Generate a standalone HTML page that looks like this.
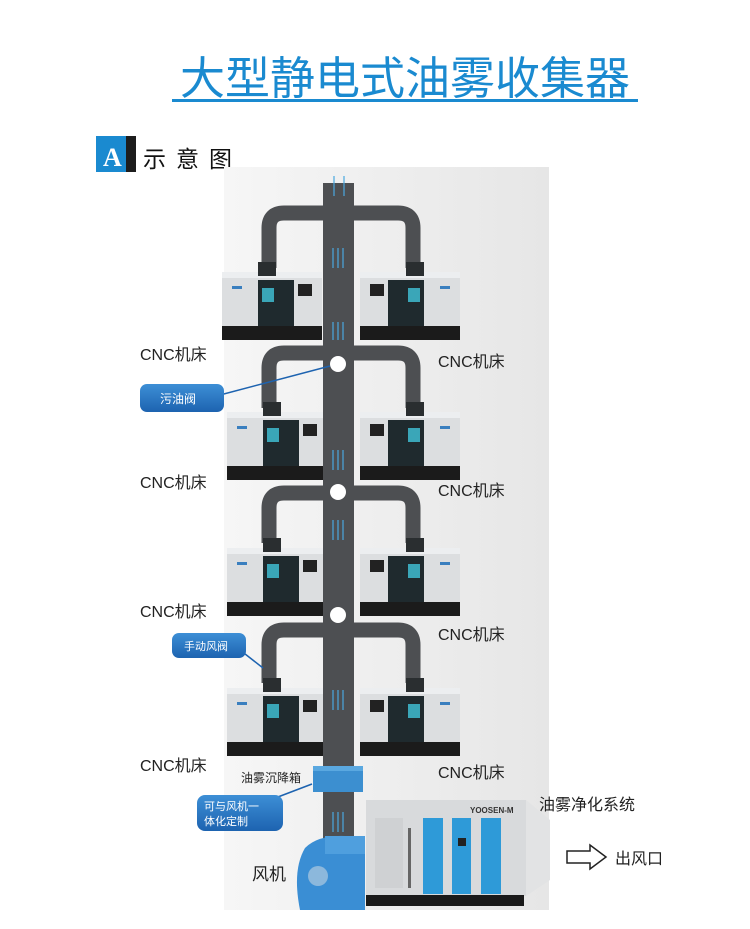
<!DOCTYPE html>
<html><head><meta charset="utf-8"><style>
body{margin:0;background:#fff;}
svg{display:block;font-family:"Liberation Sans","Noto Sans CJK SC",sans-serif;}
</style></head><body>
<svg width="750" height="929" viewBox="0 0 750 929" xmlns="http://www.w3.org/2000/svg">
<defs>
<linearGradient id="bg" x1="0" y1="0" x2="1" y2="0">
<stop offset="0" stop-color="#f6f6f6"/><stop offset="0.5" stop-color="#eeeeee"/><stop offset="1" stop-color="#e6e6e6"/></linearGradient>
<linearGradient id="bl" x1="0" y1="0" x2="0" y2="1">
<stop offset="0" stop-color="#3d8fd6"/><stop offset="1" stop-color="#1d63b0"/></linearGradient>
<g id="mL">
<rect x="0" y="10" width="100" height="58" fill="#dcdee0"/>
<rect x="0" y="10" width="100" height="6" fill="#eceef0"/>
<rect x="36" y="0" width="18" height="14" fill="#2a2e30"/>
<rect x="36" y="18" width="36" height="46" fill="#1f2a2e"/>
<rect x="40" y="26" width="12" height="14" fill="#3aa6b8"/>
<rect x="76" y="22" width="14" height="12" fill="#222"/>
<rect x="0" y="64" width="100" height="14" fill="#1b1b1b"/>
<rect x="10" y="24" width="10" height="3" fill="#3a7fbf"/>
</g>
</defs>
<!-- title -->
<text x="405" y="94" text-anchor="middle" font-size="45" fill="#1a8ad0">大型静电式油雾收集器</text>
<rect x="172" y="99" width="466" height="3" fill="#1a8ad0"/>
<!-- A 示意图 -->
<rect x="96" y="136" width="33" height="36" fill="#1a8ad0"/>
<rect x="126" y="136" width="10" height="36" fill="#1d1d1d"/>
<text x="103" y="166" font-size="26" font-weight="bold" fill="#fff" font-family="Liberation Serif,serif">A</text>
<text x="143" y="167" font-size="23" fill="#111" letter-spacing="10">示意图</text>
<!-- panel -->
<rect x="224" y="167" width="325" height="743" fill="url(#bg)"/>
<!-- branches -->
<g fill="none" stroke="#4d4f52" stroke-width="15">
<path d="M330 213 H284 Q269 213 269 228 V268"/>
<path d="M346 213 H398 Q413 213 413 228 V268"/>
<path d="M330 353 H284 Q269 353 269 368 V408"/>
<path d="M346 353 H398 Q413 353 413 368 V408"/>
<path d="M330 493 H284 Q269 493 269 508 V543"/>
<path d="M346 493 H398 Q413 493 413 508 V543"/>
<path d="M330 630 H284 Q269 630 269 645 V683"/>
<path d="M346 630 H398 Q413 630 413 645 V683"/>
</g>
<!-- machines -->
<use href="#mL" transform="translate(222,262)"/>
<use href="#mL" transform="translate(460,262) scale(-1,1)"/>
<use href="#mL" transform="translate(227,402)"/>
<use href="#mL" transform="translate(460,402) scale(-1,1)"/>
<use href="#mL" transform="translate(227,538)"/>
<use href="#mL" transform="translate(460,538) scale(-1,1)"/>
<use href="#mL" transform="translate(227,678)"/>
<use href="#mL" transform="translate(460,678) scale(-1,1)"/>
<!-- duct -->
<rect x="323" y="183" width="31" height="700" fill="#4d4f52"/>
<g stroke="#4aa8e0" stroke-width="1.2">
<line x1="334" y1="176" x2="334" y2="196"/><line x1="344" y1="176" x2="344" y2="196"/>
<line x1="333" y1="248" x2="333" y2="268"/><line x1="338" y1="248" x2="338" y2="268"/><line x1="343" y1="248" x2="343" y2="268"/>
<line x1="333" y1="322" x2="333" y2="340"/><line x1="338" y1="322" x2="338" y2="340"/><line x1="343" y1="322" x2="343" y2="340"/>
<line x1="333" y1="450" x2="333" y2="470"/><line x1="338" y1="450" x2="338" y2="470"/><line x1="343" y1="450" x2="343" y2="470"/>
<line x1="333" y1="520" x2="333" y2="540"/><line x1="338" y1="520" x2="338" y2="540"/><line x1="343" y1="520" x2="343" y2="540"/>
<line x1="333" y1="690" x2="333" y2="710"/><line x1="338" y1="690" x2="338" y2="710"/><line x1="343" y1="690" x2="343" y2="710"/>
<line x1="333" y1="812" x2="333" y2="832"/><line x1="338" y1="812" x2="338" y2="832"/><line x1="343" y1="812" x2="343" y2="832"/>
</g>
<g fill="#fff"><circle cx="338" cy="364" r="8"/><circle cx="338" cy="492" r="8"/><circle cx="338" cy="615" r="8"/></g>
<!-- labels -->
<g font-size="16" fill="#222">
<text x="140" y="360">CNC机床</text><text x="438" y="367">CNC机床</text>
<text x="140" y="488">CNC机床</text><text x="438" y="496">CNC机床</text>
<text x="140" y="617">CNC机床</text><text x="438" y="640">CNC机床</text>
<text x="140" y="771">CNC机床</text><text x="438" y="778">CNC机床</text>
</g>
<!-- callouts -->
<line x1="220" y1="395" x2="330" y2="366" stroke="#1d63b0" stroke-width="1.5"/>
<rect x="140" y="384" width="84" height="28" rx="7" fill="url(#bl)"/>
<text x="160" y="403" font-size="12" fill="#fff">污油阀</text>
<line x1="240" y1="650" x2="263" y2="668" stroke="#1d63b0" stroke-width="1.5"/>
<rect x="172" y="633" width="74" height="25" rx="7" fill="url(#bl)"/>
<text x="184" y="650" font-size="11" fill="#fff">手动风阀</text>
<line x1="270" y1="800" x2="312" y2="784" stroke="#1d63b0" stroke-width="1.5"/>
<rect x="197" y="795" width="86" height="36" rx="8" fill="url(#bl)"/>
<text x="204" y="810" font-size="11" fill="#fff">可与风机一</text>
<text x="204" y="825" font-size="11" fill="#fff">体化定制</text>
<text x="241" y="782" font-size="12" fill="#222">油雾沉降箱</text>
<!-- settling box -->
<rect x="313" y="766" width="50" height="26" fill="#3c8fd0"/>
<rect x="313" y="766" width="50" height="5" fill="#5aa8e0"/>
<!-- fan -->
<path d="M300 910 Q292 870 305 848 Q318 835 345 836 L365 838 L365 910 Z" fill="#3a8ed4"/>
<rect x="325" y="836" width="40" height="18" fill="#4f9fde"/>
<circle cx="318" cy="876" r="10" fill="#8cb8dc"/>
<text x="252" y="880" font-size="17" fill="#222">风机</text>
<!-- purifier -->
<rect x="366" y="800" width="160" height="96" fill="#d8dadc"/>
<path d="M526 800 L550 820 L550 880 L526 896 Z" fill="#e2e3e4"/>
<rect x="375" y="818" width="28" height="70" fill="#cfd1d3"/>
<rect x="408" y="828" width="3" height="60" fill="#666"/>
<rect x="423" y="818" width="20" height="76" fill="#2e9ad8"/>
<rect x="452" y="818" width="19" height="76" fill="#2e9ad8"/>
<rect x="481" y="818" width="20" height="76" fill="#2e9ad8"/>
<rect x="458" y="838" width="8" height="8" fill="#222"/>
<rect x="366" y="895" width="158" height="11" fill="#1a1a1a"/>
<text x="470" y="813" font-size="8" font-weight="bold" fill="#333">YOOSEN-M</text>
<text x="539" y="810" font-size="16" fill="#222">油雾净化系统</text>
<!-- out arrow -->
<path d="M567 851 H590 V845 L606 857 L590 869 V863 H567 Z" fill="#fff" stroke="#222" stroke-width="1.5"/>
<text x="615" y="864" font-size="16" fill="#222">出风口</text>
</svg>
</body></html>
